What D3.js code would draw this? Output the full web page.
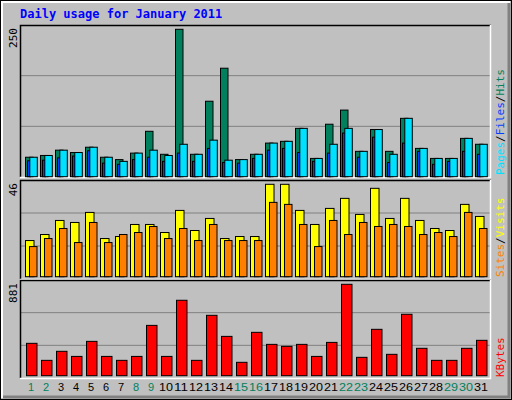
<!DOCTYPE html><html><head><meta charset="utf-8">
<script src="https://cdn.jsdelivr.net/npm/d3@7"></script>
<style>body{margin:0}svg{display:block}</style></head><body>
<script>
const days = d3.range(1,32);
const weekend = [1,2,8,9,15,16,22,23,29,30];
const hits  = [33,36,45,41,50,33,29,40,77,38,250,38,128,184,29,38,57,60,82,31,89,113,43,80,43,99,48,31,31,65,55];
const pages = [33,36,45,41,50,33,26,40,45,36,55,38,62,28,29,38,57,60,82,31,55,82,43,80,38,99,48,31,31,65,55];
const files = [27,28,32,35,44,23,21,29,33,26,40,26,48,24,23,31,45,48,41,26,40,74,33,67,24,57,43,21,26,43,38];
const visits= [18,21,28,27,32,19,20,26,26,22,33,23,29,19,20,20,46,46,33,26,34,39,31,44,29,39,28,24,23,36,30];
const sites = [15,19,24,17,27,17,21,22,25,19,24,18,26,18,18,18,37,36,26,15,28,21,27,25,26,25,21,22,20,32,24];
const kbytes= [312,148,235,186,331,186,148,186,485,186,727,148,582,379,129,418,302,283,302,186,321,881,177,447,206,592,264,148,148,264,341];
const maxLabels = ["250","46","881"];

const W=512,H=400;
const svg=d3.select("body").append("svg").attr("width",W).attr("height",H);
svg.append("rect").attr("width",W).attr("height",H).attr("fill","#C0C0C0");
svg.append("rect").attr("x",0.5).attr("y",0.5).attr("width",W-1).attr("height",H-1).attr("fill","none").attr("stroke","#000");
svg.append("path").attr("d","M2,398V2H510").attr("stroke","#fff").attr("fill","none").attr("stroke-width",2);
svg.append("path").attr("d",`M3,${H-3}H${W-3}V3`).attr("stroke","#808080").attr("fill","none").attr("stroke-width",3);
svg.append("text").attr("x",20).attr("y",18).text("Daily usage for January 2011")
  .attr("font-family","DejaVu Sans Mono").attr("font-weight","bold").attr("font-size",12).attr("fill","#0000FF");

const x=d3.scaleLinear().domain([1,32]).range([25,490]);
const panels=[{y0:25,y1:177,max:250},{y0:180,y1:279,max:46},{y0:280,y1:378,max:881}];
panels.forEach((p,i)=>{
  const g=svg.append("g");
  const h=p.y1-p.y0;
  [1,2].forEach(k=>g.append("line").attr("x1",21).attr("x2",490).attr("y1",p.y1-h*k/3).attr("y2",p.y1-h*k/3).attr("stroke","#808080"));
  g.append("path").attr("d",`M20.5,${p.y1}V${p.y0+0.5}H491`).attr("stroke","#000").attr("fill","none").attr("stroke-width",1.5);
  g.append("path").attr("d",`M20,${p.y1+0.5}H490.5V${p.y0}`).attr("stroke","#fff").attr("fill","none").attr("stroke-width",1.5);
  svg.append("text").attr("transform",`translate(17,${p.y0+3}) rotate(-90)`).attr("text-anchor","end")
    .attr("font-family","DejaVu Sans Mono").attr("font-size",11).text(maxLabels[i]);
});
const yT=d3.scaleLinear().domain([0,250]).range([176.7,29.3]);
const yM=d3.scaleLinear().domain([0,46]).range([276.7,184.3]);
const yB=d3.scaleLinear().domain([0,881]).range([375.7,284.3]);
function bars(vals,y,dx,w,color){
  svg.append("g").selectAll("rect").data(vals).join("rect")
   .attr("x",(d,i)=>x(days[i])+dx+0.5).attr("width",w).attr("y",d=>y(d)).attr("height",d=>y(0)-y(d))
   .attr("fill",color).attr("stroke","#000").attr("stroke-width",1);
}
bars(hits,yT,0,7.5,"#00805C");
bars(files,yT,2,3,"#0040FF");
bars(pages,yT,4.3,7.5,"#00E0FF");
bars(visits,yM,0,8.5,"#FFFF00");
bars(sites,yM,4,7.5,"#FF8000");
bars(kbytes,yB,1,10.5,"#FF0000");

svg.append("g").selectAll("text").data(days).join("text")
  .attr("x",d=>x(d)+6).attr("y",391).attr("text-anchor","middle")
  .attr("font-family","Liberation Sans").attr("font-size",11)
  .attr("textLength",d=>d>9?14:null).attr("lengthAdjust","spacingAndGlyphs")
  .attr("fill",d=>weekend.includes(d)?"#00805C":"#000").text(d=>d);

function sideLabel(yBottom,parts){
  const t=svg.append("text").attr("transform",`translate(504,${yBottom}) rotate(-90)`)
   .attr("font-family","DejaVu Sans Mono").attr("font-size",11);
  parts.forEach(([s,c])=>t.append("tspan").attr("fill",c).text(s));
}
sideLabel(175,[["Pages","#00E0FF"],["/","#000"],["Files","#0040FF"],["/","#000"],["Hits","#00805C"]]);
sideLabel(277,[["Sites","#FF8000"],["/","#000"],["Visits","#FFFF00"]]);
sideLabel(377,[["KBytes","#FF0000"]]);
</script></body></html>
